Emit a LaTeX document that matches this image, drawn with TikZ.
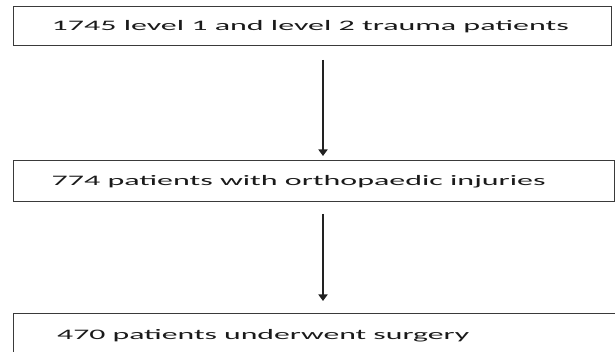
\documentclass[tikz,border=0pt]{standalone}
\usepackage{fontspec}
\setmainfont{Carlito}
\usetikzlibrary{arrows.meta}
\definecolor{edgegray}{HTML}{3A3A3A}
\definecolor{txtgray}{HTML}{1A1A1A}
\definecolor{arrowgray}{HTML}{222222}
\tikzset{
  flowbox/.style={draw=edgegray, line width=1.4pt, rectangle, inner sep=0pt, anchor=north west},
  flowtext/.style={text=txtgray, inner sep=0pt, anchor=base west, font=\fontsize{14.5}{17}\selectfont},
  flowarrow/.style={draw=arrowgray, line width=2.3pt, -{Triangle[width=9pt,length=6.5pt]}}
}
\begin{document}
\begin{tikzpicture}[x=1pt,y=1pt]
\clip (0,0) rectangle (615,-352);
\useasboundingbox (0,0) rectangle (615,-352);
\fill[white] (0,0) rectangle (615,-352);
% boxes
\node[flowbox, minimum width=598pt, minimum height=39pt] (a) at (13,-6) {};
\node[flowbox, minimum width=601pt, minimum height=41pt] (b) at (13,-160) {};
\node[flowbox, minimum width=620pt, minimum height=60pt] (c) at (13,-313) {};
% texts
\node[flowtext] (ta) at (51.5,-31) {\resizebox{517pt}{\height}{1745 level 1 and level 2 trauma patients}};
\node[flowtext] (tb) at (51.5,-185.5) {\resizebox{494pt}{\height}{774 patients with orthopaedic injuries}};
\node[flowtext] (tc) at (57,-339) {\resizebox{412pt}{\height}{470 patients underwent surgery}};
% arrows
\coordinate (a1) at (323,-60);
\coordinate (a2) at (323,-156);
\coordinate (b1) at (323,-214);
\coordinate (b2) at (323,-301);
\draw[flowarrow] (a1) -- (a2);
\draw[flowarrow] (b1) -- (b2);
\end{tikzpicture}
\end{document}
